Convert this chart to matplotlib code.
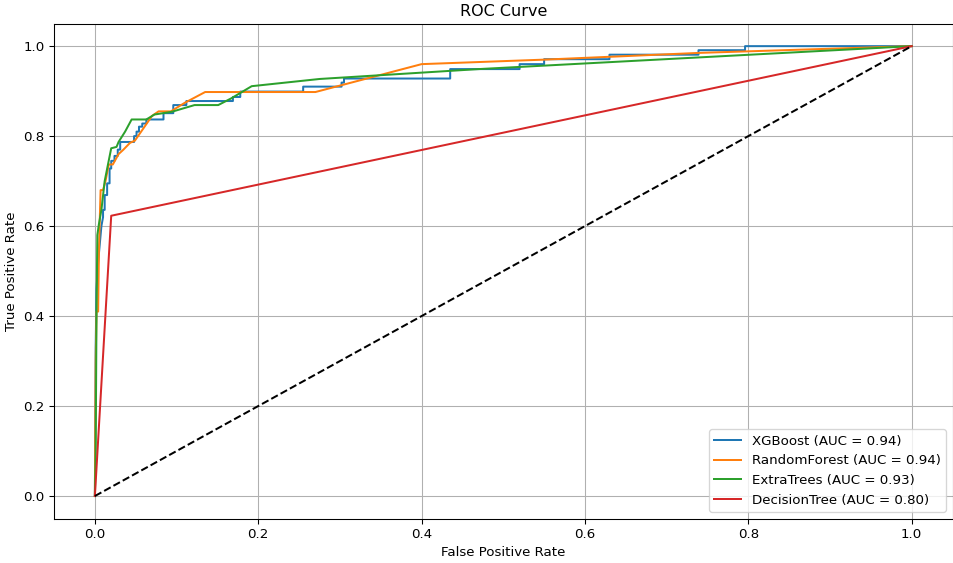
import matplotlib.pyplot as plt

# ROC points
xgb_fpr = [0, 0.001, 0.002, 0.004, 0.006, 0.008, 0.010, 0.010, 0.012, 0.012, 0.015, 0.015,
           0.018, 0.018, 0.020, 0.020, 0.024, 0.024, 0.028, 0.028, 0.031, 0.031, 0.048, 0.048,
           0.051, 0.051, 0.054, 0.054, 0.058, 0.058, 0.063, 0.063, 0.084, 0.084, 0.096, 0.096,
           0.112, 0.112, 0.169, 0.169, 0.178, 0.178, 0.255, 0.255, 0.302, 0.302, 0.305, 0.305,
           0.435, 0.435, 0.52, 0.52, 0.55, 0.55, 0.63, 0.63, 0.739, 0.739, 0.796, 0.796, 1.0]
xgb_tpr = [0, 0.33, 0.46, 0.52, 0.56, 0.60, 0.62, 0.636, 0.636, 0.669, 0.669, 0.695,
           0.695, 0.728, 0.728, 0.745, 0.745, 0.756, 0.756, 0.77, 0.77, 0.787, 0.787, 0.80,
           0.80, 0.81, 0.81, 0.821, 0.821, 0.828, 0.828, 0.837, 0.837, 0.851, 0.851, 0.869,
           0.869, 0.878, 0.878, 0.887, 0.887, 0.899, 0.899, 0.91, 0.91, 0.919, 0.919, 0.928,
           0.928, 0.949, 0.949, 0.96, 0.96, 0.971, 0.971, 0.981, 0.981, 0.991, 0.991, 1.0, 1.0]

rf_fpr = [0, 0.001, 0.002, 0.004, 0.005, 0.007, 0.010, 0.013, 0.017, 0.022, 0.029, 0.035,
          0.043, 0.049, 0.070, 0.078, 0.093, 0.110, 0.135, 0.270, 0.400, 0.550, 0.740, 1.0]
rf_tpr = [0, 0.30, 0.41, 0.41, 0.55, 0.68, 0.68, 0.70, 0.737, 0.737, 0.76, 0.77,
          0.785, 0.79, 0.845, 0.855, 0.855, 0.874, 0.898, 0.898, 0.96, 0.97, 0.985, 1.0]

et_fpr = [0, 0.001, 0.002, 0.003, 0.005, 0.008, 0.012, 0.0155, 0.020, 0.0265, 0.029, 0.037,
          0.045, 0.063, 0.073, 0.094, 0.122, 0.151, 0.167, 0.192, 0.275, 0.47, 1.0]
et_tpr = [0, 0.10, 0.41, 0.58, 0.605, 0.636, 0.70, 0.732, 0.773, 0.776, 0.787, 0.81,
          0.837, 0.837, 0.848, 0.854, 0.869, 0.869, 0.884, 0.911, 0.927, 0.949, 1.0]

dt_fpr = [0, 0.02, 1.0]
dt_tpr = [0, 0.623, 1.0]

models = ["XGBoost", "RandomForest", "ExtraTrees", "DecisionTree"]
aucs = [0.94, 0.94, 0.93, 0.80]
curves = [(xgb_fpr, xgb_tpr), (rf_fpr, rf_tpr), (et_fpr, et_tpr), (dt_fpr, dt_tpr)]

plt.figure(figsize=(953/96, 563/96), dpi=96)
for name, auc, (fpr, tpr) in zip(models, aucs, curves):
    plt.plot(fpr, tpr, label=f"{name} (AUC = {auc:.2f})")
plt.plot([0, 1], [0, 1], 'k--')

plt.title("ROC Curve")
plt.xlabel("False Positive Rate")
plt.ylabel("True Positive Rate")
plt.legend(loc="lower right")
plt.grid(True)
plt.subplots_adjust(left=0.0567, right=0.9995, top=0.958, bottom=0.079)
plt.savefig("out.png", dpi=96)
